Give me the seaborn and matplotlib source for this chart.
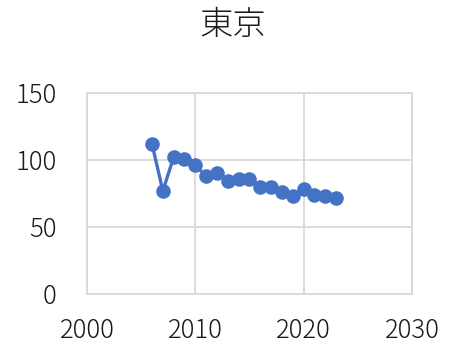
import matplotlib
matplotlib.use("Agg")
import matplotlib.pyplot as plt
import seaborn as sns
import pandas as pd

years = [2006, 2007, 2008, 2009, 2010, 2011, 2012, 2013, 2014, 2015,
         2016, 2017, 2018, 2019, 2020, 2021, 2022, 2023]
values = [112, 77, 102, 101, 96, 88, 90, 84, 86, 86,
          80, 80, 76, 73, 78, 74, 73, 72]
x_ticks = [2000, 2010, 2020, 2030]
y_ticks = [0, 50, 100, 150]
title = "東京"

sns.set_style("white")
plt.rcParams["font.family"] = ["Noto Sans CJK JP", "DejaVu Sans"]
plt.rcParams["font.weight"] = "light"

df = pd.DataFrame({"year": years, "value": values})

fig = plt.figure(figsize=(4.61, 3.47), dpi=100)
ax = fig.add_axes([0.1887, 0.1527, 0.705, 0.5793])

sns.lineplot(data=df, x="year", y="value", ax=ax, color="#4472C4",
             linewidth=2.4, marker="o", markersize=10.5,
             markeredgewidth=0, zorder=3)

ax.set_xlim(x_ticks[0], x_ticks[-1])
ax.set_ylim(y_ticks[0], y_ticks[-1])
ax.set_xticks(x_ticks)
ax.set_yticks(y_ticks)
ax.set_xlabel("")
ax.set_ylabel("")
ax.grid(True, color="#d9d9d9", linewidth=1.3)
for s in ax.spines.values():
    s.set_color("#d9d9d9")
    s.set_linewidth(1.3)
ax.tick_params(axis="both", length=0, labelsize=18.5, colors="#1a1a1a")
for lbl in ax.get_xticklabels() + ax.get_yticklabels():
    lbl.set_fontweight("light")
ax.tick_params(axis="y", pad=22)
ax.tick_params(axis="x", pad=17)

fig.text(0.505, 0.925, title, ha="center", va="center", fontsize=24,
         color="#1a1a1a", fontweight="light")

fig.savefig("out.png", dpi=100)
